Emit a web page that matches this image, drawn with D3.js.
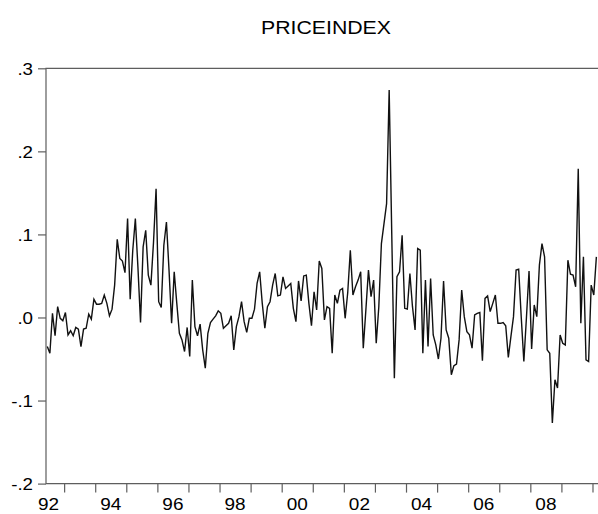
<!DOCTYPE html>
<html>
<head>
<meta charset="utf-8">
<script src="https://cdn.jsdelivr.net/npm/d3@7"></script>
<style>
  html, body { margin: 0; padding: 0; background: #fff; }
  svg { display: block; }
  text { font-family: "Liberation Sans", Arial, sans-serif; fill: #000; }
</style>
</head>
<body>
<script>
// Monthly series, first observation 1992M6
const startYear = 1992;
const startMonth = 6;
const title = "PRICEINDEX";
const values = [
  -0.035,-0.043,0.005,-0.022,0.013,-0.001,-0.004,0.006,-0.021,-0.016,
  -0.022,-0.012,-0.014,-0.035,-0.014,-0.013,0.004,-0.002,0.022,0.016,
  0.016,0.017,0.027,0.017,0.002,0.010,0.039,0.094,0.071,0.068,
  0.054,0.119,0.022,0.081,0.119,0.060,-0.006,0.085,0.105,0.051,
  0.039,0.090,0.155,0.019,0.012,0.087,0.115,0.057,-0.007,0.055,
  0.017,-0.019,-0.027,-0.041,-0.012,-0.047,0.045,-0.011,-0.022,-0.008,
  -0.039,-0.061,-0.019,-0.006,-0.002,0.002,0.008,0.005,-0.013,-0.010,
  -0.007,0.002,-0.039,-0.011,0.001,0.019,-0.005,-0.018,-0.001,-0.001,
  0.010,0.041,0.055,0.017,-0.013,0.013,0.019,0.039,0.053,0.026,
  0.027,0.049,0.035,0.038,0.041,0.011,-0.005,0.044,0.020,0.050,
  0.051,0.017,-0.010,0.031,0.009,0.068,0.059,-0.003,0.013,0.011,
  -0.043,0.027,0.017,0.033,0.035,-0.001,0.030,0.081,0.027,0.037,
  0.045,0.055,-0.037,0.009,0.057,0.025,0.045,-0.031,0.013,0.089,
  0.113,0.137,0.274,0.100,-0.073,0.049,0.055,0.099,0.011,0.010,
  0.053,0.013,-0.015,0.083,0.081,-0.043,0.045,-0.035,0.047,-0.021,
  -0.033,-0.050,-0.025,0.044,-0.015,-0.025,-0.069,-0.058,-0.056,-0.027,
  0.033,0.001,-0.017,-0.021,-0.037,0.003,0.005,0.006,-0.052,0.023,
  0.026,0.007,0.017,0.027,-0.007,-0.007,-0.006,-0.010,-0.048,-0.023,
  0.001,0.057,0.058,0.000,-0.053,0.000,0.056,-0.038,0.015,0.001,
  0.063,0.089,0.073,-0.039,-0.043,-0.127,-0.075,-0.085,-0.021,-0.031,
  -0.033,0.069,0.052,0.051,0.037,0.179,-0.007,0.073,-0.051,-0.053,
  0.039,0.027,0.073
];
const yTicks = [0.3, 0.2, 0.1, 0.0, -0.1, -0.2];
const yTickLabels = [".3", ".2", ".1", ".0", "-.1", "-.2"];
const xTickYears = d3.range(1993, 2011);
const xLabelYears = [1992, 1994, 1996, 1998, 2000, 2002, 2004, 2006, 2008];
const xLabels = ["92", "94", "96", "98", "00", "02", "04", "06", "08"];

const W = 598, H = 514;
const plotLeft = 46, plotTop = 68.3, plotBottom = 483.6;
const yearPx = 31.08;
const t0 = startYear + (startMonth - 1) / 12;
const t1 = t0 + 18;
const SX = 1.15; // horizontal stretch of the glyphs

const svg = d3.select("body").append("svg").attr("width", W).attr("height", H);

const x = d3.scaleLinear().domain([t0, t1]).range([plotLeft, plotLeft + 18 * yearPx]);
const y = d3.scaleLinear().domain([-0.2, 0.3]).range([plotBottom, plotTop]);

const frameColor = "#5e5e5e";

// frame (right side is beyond the picture)
svg.append("path")
  .attr("d", `M${x(t1)},${y(0.3)}H${plotLeft}V${y(-0.2)}H${x(t1)}`)
  .attr("fill", "none").attr("stroke", frameColor).attr("stroke-width", 1.2);

// y axis ticks + labels
const yAxis = d3.axisLeft(y).tickValues(yTicks).tickSize(8).tickFormat((d, i) => yTickLabels[i]);
const gy = svg.append("g").attr("transform", `translate(${plotLeft},0)`).call(yAxis);
gy.select(".domain").remove();
gy.selectAll(".tick line").attr("stroke", frameColor).attr("stroke-width", 1.2);
gy.selectAll(".tick text").each(function() {
  const t = d3.select(this);
  t.attr("x", null).attr("dy", null)
   .attr("transform", `translate(-13,5.8) scale(${SX},1)`)
   .attr("text-anchor", "end")
   .style("font-size", "16.3px").style("font-family", "'Liberation Sans', Arial, sans-serif").attr("fill", "#000");
});

// x axis ticks (year starts)
const xAxis = d3.axisBottom(x).tickValues(xTickYears).tickSize(9).tickFormat("");
const gx = svg.append("g").attr("transform", `translate(0,${plotBottom})`).call(xAxis);
gx.select(".domain").remove();
gx.selectAll(".tick line").attr("stroke", frameColor).attr("stroke-width", 1.2);

// x labels centred on mid-year of even years
svg.append("g").selectAll("text").data(xLabelYears).join("text")
  .attr("transform", d => `translate(${x(d + 0.5)},${plotBottom + 26}) scale(${SX},1)`)
  .attr("text-anchor", "middle")
  .style("font-size", "16.5px")
  .text((d, i) => xLabels[i]);

// title
svg.append("text")
  .attr("transform", `translate(326,34) scale(${SX},1)`)
  .attr("text-anchor", "middle")
  .style("font-size", "18.5px")
  .text(title);

// series
const line = d3.line()
  .x((d, i) => x(t0 + (i + 0.5) / 12))
  .y(d => y(d));

svg.append("path")
  .datum(values)
  .attr("d", line)
  .attr("fill", "none")
  .attr("stroke", "#111")
  .attr("stroke-width", 1.4)
  .attr("stroke-linejoin", "miter");
</script>
</body>
</html>
